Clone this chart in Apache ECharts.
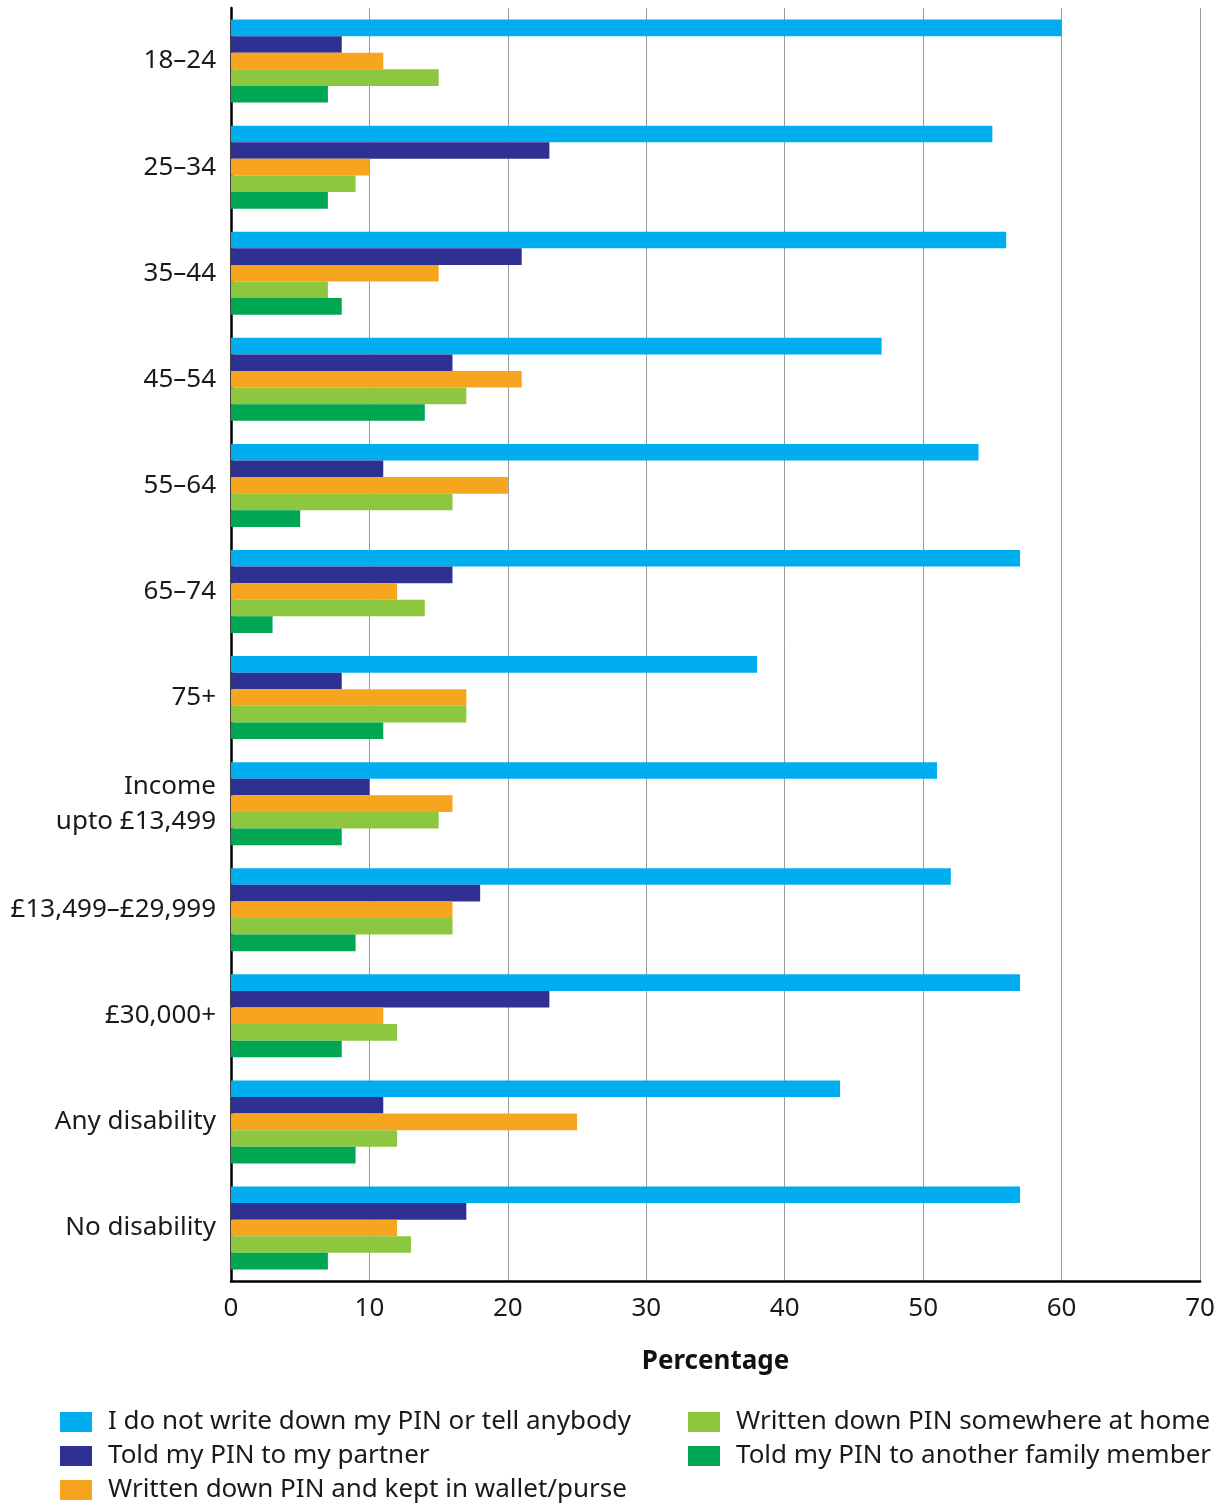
<!DOCTYPE html>
<html>
<head>
<meta charset="utf-8">
<title>PIN behaviour by group</title>
<script src="https://cdn.jsdelivr.net/npm/echarts@6/dist/echarts.min.js"></script>
<style>
  html, body { margin: 0; padding: 0; background: #fff; }
  #chart { width: 1222px; height: 1506px; }
</style>
</head>
<body>
<div id="chart"></div>
<script>
// Groups shown down the vertical axis
const categories = ['18–24', '25–34', '35–44', '45–54', '55–64', '65–74', '75+',
  'Income\nupto £13,499', '£13,499–£29,999', '£30,000+', 'Any disability', 'No disability'];

const seriesNames = [
  'I do not write down my PIN or tell anybody',
  'Told my PIN to my partner',
  'Written down PIN and kept in wallet/purse',
  'Written down PIN somewhere at home',
  'Told my PIN to another family member'
];

// Percentages per group, one array per behaviour
const notWrittenOrTold = [60, 55, 56, 47, 54, 57, 38, 51, 52, 57, 44, 57];
const toldPartner      = [8, 23, 21, 16, 11, 16, 8, 10, 18, 23, 11, 17];
const writtenWallet    = [11, 10, 15, 21, 20, 12, 17, 16, 16, 11, 25, 12];
const writtenHome      = [15, 9, 7, 17, 16, 14, 17, 15, 16, 12, 12, 13];
const toldFamily       = [7, 7, 8, 14, 5, 3, 11, 8, 9, 8, 9, 7];

const xTicks = [0, 70, 10]; // min, max, step

const colors = ['#00AEEF', '#2E3192', '#F7A51E', '#8DC63F', '#00A651'];
const values = [notWrittenOrTold, toldPartner, writtenWallet, writtenHome, toldFamily];

const FONT = '"Noto Sans", "Open Sans", sans-serif';

const chart = echarts.init(document.getElementById('chart'));

const legendText = {
  fontFamily: FONT,
  fontSize: 26,
  color: '#1a1a1a',
  lineHeight: 34,
  padding: [0, 0, 0, 11]
};

function legendColumn(left, names) {
  return {
    left, top: 1405,
    height: 140,
    padding: 0,
    orient: 'vertical',
    itemWidth: 32, itemHeight: 20, itemGap: 0,
    icon: 'rect',
    textStyle: legendText,
    data: names
  };
}

chart.setOption({
  animation: false,
  backgroundColor: '#fff',
  color: colors,
  grid: { left: 231, right: 22, top: 8, bottom: 225 },
  xAxis: {
    type: 'value',
    min: xTicks[0],
    max: xTicks[1],
    interval: xTicks[2],
    name: 'Percentage',
    nameLocation: 'middle',
    nameGap: 68,
    nameTextStyle: { fontFamily: FONT, fontSize: 26, fontWeight: 'bold', color: '#111' },
    axisLine: { show: true, lineStyle: { color: '#000', width: 2.5 } },
    axisTick: { show: false },
    axisLabel: { fontFamily: FONT, fontSize: 26, color: '#1a1a1a', margin: 15 },
    splitLine: { show: true, lineStyle: { color: '#9a9a9a', width: 1 } }
  },
  yAxis: {
    type: 'category',
    data: categories,
    inverse: true,
    axisLine: { show: true, onZero: false, lineStyle: { color: '#000', width: 2.5 } },
    axisTick: { show: false },
    axisLabel: { fontFamily: FONT, fontSize: 26, color: '#1a1a1a', margin: 15, lineHeight: 35, align: 'right' }
  },
  legend: [
    legendColumn(60, seriesNames.slice(0, 3)),
    legendColumn(688, seriesNames.slice(3))
  ],
  series: seriesNames.map((name, i) => ({
    name,
    type: 'bar',
    data: values[i],
    barWidth: 16.6,
    barGap: '0%',
    itemStyle: { color: colors[i] }
  }))
});
</script>
</body>
</html>
